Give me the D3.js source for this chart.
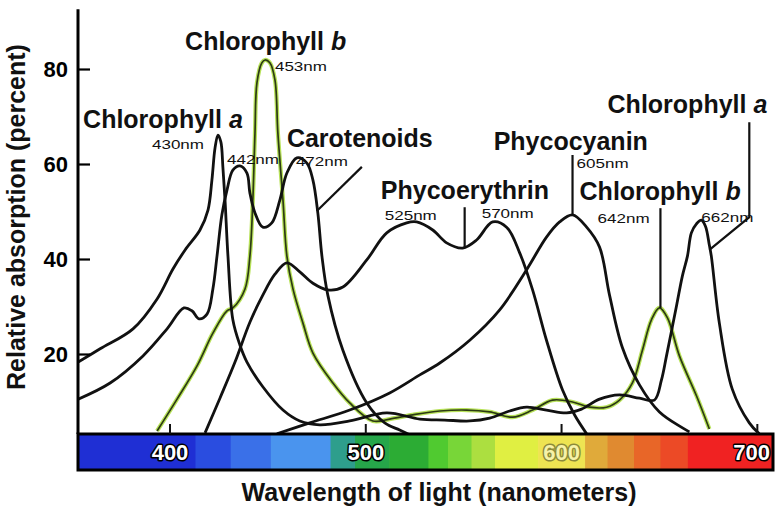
<!DOCTYPE html>
<html><head><meta charset="utf-8">
<script src="https://cdn.jsdelivr.net/npm/d3@7"></script>
<style>
html,body{margin:0;padding:0;background:#fff;}
svg{display:block;font-family:"Liberation Sans",Arial,sans-serif;}
</style></head><body>
<svg id="chart" width="779" height="512"></svg>
<script>
// ---------- data (wavelength nm, relative absorption %) ----------
const chlorophyllA = [[353.1,18.3],[364.3,21.1],[381.1,25.3],[393.4,31.6],[401.5,37.9],[407.7,41.9],[415.3,46.1],[419.4,50.3],[421.4,56.6],[423.0,63.4],[424.5,66.1],[426.0,64.6],[427.0,59.4],[428.1,52.4],[429.6,40.6],[432.1,27.2],[435.7,21.9],[439.3,18.3],[447.4,13.1],[457.7,8.2],[466.3,5.9],[476.5,5.1],[491.8,5.9],[510.7,7.6],[527.6,6.3],[540.3,6.1],[553.1,5.9],[563.3,6.5],[573.5,8.0],[582.1,8.8],[592.3,8.2],[602.6,7.6],[610.2,8.4],[619.4,10.5],[629.6,11.4],[639.8,10.7],[647.4,10.3],[651.0,14.5],[653.6,19.6],[658.7,30.1],[661.7,36.4],[664.3,40.6],[666.3,45.5],[668.9,47.4],[671.4,48.2],[673.5,46.9],[675.5,42.9],[676.5,40.6],[680.6,26.5],[687.2,12.6],[695.9,5.5],[701.0,3.2]];
const chlorophyllB = [[393.4,3.8],[403.6,10.5],[413.8,17.5],[421.9,24.4],[429.1,29.1],[432.1,29.7],[438.3,33.7],[440.8,40.6],[442.3,52.4],[443.4,66.5],[444.4,77.1],[446.9,81.3],[448.5,81.9],[451.0,81.3],[453.6,77.7],[455.1,66.5],[457.7,52.4],[459.7,40.6],[462.8,33.7],[467.9,26.5],[473.0,20.2],[483.2,13.9],[491.8,9.7],[503.6,5.9],[512.2,6.3],[524.0,7.2],[537.8,8.0],[551.5,8.2],[563.3,7.8],[575.0,6.7],[585.2,8.2],[595.4,10.3],[605.6,9.9],[614.3,8.8],[623.0,8.8],[629.6,10.3],[636.2,13.9],[641.3,20.8],[645.9,27.2],[650.0,29.7],[654.1,27.6],[660.2,19.6],[668.9,11.2],[675.5,4.2]];
const carotenoids = [[353.1,10.5],[369.4,13.9],[386.2,19.6],[398.5,25.3],[407.1,29.7],[411.2,29.1],[414.8,27.4],[418.9,28.4],[421.9,33.7],[424.0,40.6],[426.5,49.3],[429.1,54.5],[432.1,58.7],[435.7,59.6],[439.3,58.1],[440.8,53.9],[443.4,49.7],[447.4,46.7],[452.0,47.6],[456.1,52.4],[459.7,58.1],[464.8,61.3],[469.9,60.2],[473.0,56.6],[475.5,49.7],[477.6,40.6],[480.6,32.4],[488.3,20.8],[500.5,9.7],[509.7,5.5],[517.3,4.0],[522.4,3.0]];
const phycoerythrin = [[417.9,3.4],[425.5,10.7],[433.2,18.3],[440.8,26.7],[447.4,32.4],[453.6,36.8],[459.7,39.2],[466.3,37.3],[473.0,34.9],[480.6,33.5],[488.3,34.1],[500.5,39.8],[510.7,45.5],[520.9,47.6],[526.0,47.8],[534.2,46.1],[541.3,43.4],[549.5,42.3],[556.6,44.0],[564.8,47.8],[571.9,46.7],[578.6,41.3],[585.2,33.5],[592.3,22.9],[600.5,12.4],[606.6,7.2],[612.8,3.2]];
const phycocyanin = [[454.6,3.2],[471.4,5.5],[491.8,8.2],[512.2,11.8],[527.6,15.6],[537.8,18.1],[553.1,22.9],[568.4,29.3],[582.1,37.7],[592.3,44.6],[599.0,47.8],[605.6,49.3],[612.8,46.7],[619.4,42.5],[624.5,32.4],[631.1,21.3],[639.8,13.5],[650.0,7.8],[665.3,3.6]];

const yTicks = [20, 40, 60, 80];
const xTicks = [400, 500, 600, 700];
const xTickLabels = ["400", "500", "600", "700"];
const spectrumStart = [353, 413, 431, 451.5, 482, 494.5, 512, 532, 542, 554, 566, 588, 612, 623.5, 637, 650.5, 664.5];
const spectrumColors = ["#1f2fd4","#2a4de0","#3a70e8","#4a94ee","#2e9e8c","#26a64a","#2cac34","#50ca30","#78d638","#acdf40","#e0ef42","#eee452","#e0aa3a","#e08a30","#e86628","#ec4a26","#f02222"];

// annotation texts and anchors (data units)
const nameText   = ["Chlorophyll ","Chlorophyll ","Carotenoids","Phycoerythrin","Phycocyanin","Chlorophyll ","Chlorophyll "];
const nameItalic = ["a","b","","","","b","a"];
const nameAnchor = [[355.6,67.6],[407.7,84.0],[459.7,63.6],[507.7,52.6],[565.3,62.9],[609.2,52.4],[623.5,70.7]];
const peakText   = ["430nm","453nm","442nm","472nm","525nm","570nm","605nm","642nm","662nm"];
const peakAnchor = [[390.8,63.2],[453.6,79.6],[429.1,60.0],[464.3,59.6],[509.7,48.2],[559.2,48.6],[607.7,59.2],[618.4,47.6],[671.4,47.8]];
const leaders = [
  [[498,59.4],[475,50.1]],
  [[550.5,50.9],[550.5,42.3]],
  [[605.6,61.9],[605.6,49.3]],
  [[650.5,50.7],[650.5,29.7]],
  [[695.9,68.8],[695.9,48.8],[675.5,41.9]]
];

// ---------- drawing ----------
const FONT = '"Liberation Sans", Arial, sans-serif';
const svg = d3.select("#chart");
svg.append("rect").attr("width",779).attr("height",512).attr("fill","#fff");

const xDomain = [353, 708];
const x = d3.scaleLinear().domain(xDomain).range([78, 773]);
const y = d3.scaleLinear().domain([0, 80]).range([449, 69]);
const barTop = 434, barBottom = 470, yAxisMax = 92.6;

svg.append("defs").append("clipPath").attr("id","plotclip")
  .append("rect").attr("x", x(xDomain[0])).attr("y", 0)
  .attr("width", x(xDomain[1]) - x(xDomain[0])).attr("height", barTop);

const line = d3.line().x(d => x(d[0])).y(d => y(d[1])).curve(d3.curveCatmullRom.alpha(0.5));
const plot = svg.append("g").attr("clip-path","url(#plotclip)");

// green series (chlorophyll b)
plot.append("path").datum(chlorophyllB).attr("d", line).attr("fill","none")
  .attr("stroke","#b8e25a").attr("stroke-width",4.2).attr("stroke-linejoin","round");
plot.append("path").datum(chlorophyllB).attr("d", line).attr("fill","none")
  .attr("stroke","#2c3a14").attr("stroke-width",1.7).attr("stroke-linejoin","round");

// black series
[chlorophyllA, carotenoids, phycoerythrin, phycocyanin].forEach(s => {
  plot.append("path").datum(s).attr("d", line).attr("fill","none")
    .attr("stroke","#111").attr("stroke-width",2.8).attr("stroke-linejoin","round");
});

// leader lines
const lineLin = d3.line().x(d => x(d[0])).y(d => y(d[1]));
leaders.forEach(l => {
  svg.append("path").datum(l).attr("d", lineLin).attr("fill","none")
    .attr("stroke","#111").attr("stroke-width",2.2);
});

// spectrum bar
const ends = spectrumStart.slice(1).concat([xDomain[1]]);
svg.selectAll("rect.spec").data(spectrumStart).join("rect").attr("class","spec")
  .attr("x", d => x(d)).attr("width", (d,i) => x(ends[i]) - x(d) + 0.6)
  .attr("y", barTop).attr("height", barBottom - barTop)
  .attr("fill", (d,i) => spectrumColors[i]);
svg.append("rect").attr("x", x(xDomain[0])).attr("y", barTop)
  .attr("width", x(xDomain[1]) - x(xDomain[0])).attr("height", barBottom - barTop)
  .attr("fill","none").attr("stroke","#000").attr("stroke-width",3);

// x ticks above the bar
svg.selectAll("line.xt").data(xTicks).join("line").attr("class","xt")
  .attr("x1", d => x(d)).attr("x2", d => x(d))
  .attr("y1", barTop - 10).attr("y2", barTop).attr("stroke","#111").attr("stroke-width",2);

// x tick labels inside bar
svg.selectAll("text.xl").data(xTicks).join("text").attr("class","xl")
  .attr("x", (d,i) => i === xTicks.length - 1 ? x(xDomain[1]) - 3 : x(d))
  .attr("y", 460)
  .attr("text-anchor", (d,i) => i === xTicks.length - 1 ? "end" : "middle")
  .attr("font-family", FONT).attr("font-weight","bold").attr("font-size",22)
  .attr("fill", d => d === 600 ? "#f6f2a8" : "#fff")
  .attr("stroke", d => d === 600 ? "#8c8a3a" : "#000")
  .attr("stroke-width", 3).attr("paint-order","stroke").attr("stroke-linejoin","round")
  .text((d,i) => xTickLabels[i]);

// y axis
const yAxis = d3.axisLeft(y).tickValues(yTicks).tickSize(-12).tickPadding(10);
const gy = svg.append("g").attr("transform", `translate(${x(xDomain[0])},0)`).call(yAxis);
gy.select(".domain").remove();
gy.selectAll(".tick line").attr("stroke","#000").attr("stroke-width",2.2);
gy.selectAll(".tick text").attr("font-family", FONT).attr("font-size",22)
  .attr("font-weight","bold").attr("fill","#000");
svg.append("line").attr("x1", x(xDomain[0])).attr("x2", x(xDomain[0]))
  .attr("y1", barTop).attr("y2", y(yAxisMax)).attr("stroke","#000").attr("stroke-width",3);

// axis titles
svg.append("text").attr("transform", "translate(25,217) rotate(-90)")
  .attr("text-anchor","middle").attr("font-family", FONT).attr("font-weight","bold")
  .attr("font-size",25).attr("fill","#111").text("Relative absorption (percent)");
svg.append("text").attr("x", 439).attr("y", 501)
  .attr("text-anchor","middle").attr("font-family", FONT).attr("font-weight","bold")
  .attr("font-size",25).attr("fill","#111").text("Wavelength of light (nanometers)");

// pigment names
nameText.forEach((t,i) => {
  const tx = svg.append("text").attr("x", x(nameAnchor[i][0])).attr("y", y(nameAnchor[i][1]))
    .attr("font-family", FONT).attr("font-weight","bold").attr("font-size",25).attr("fill","#111");
  tx.append("tspan").text(t);
  if (nameItalic[i]) tx.append("tspan").attr("font-style","italic").text(nameItalic[i]);
});

// peak labels
peakText.forEach((t,i) => {
  svg.append("text").attr("x", x(peakAnchor[i][0])).attr("y", y(peakAnchor[i][1]))
    .attr("font-family", FONT).attr("font-size",13).attr("fill","#111")
    .attr("textLength", 52).attr("lengthAdjust","spacingAndGlyphs").text(t);
});
</script>
</body></html>
